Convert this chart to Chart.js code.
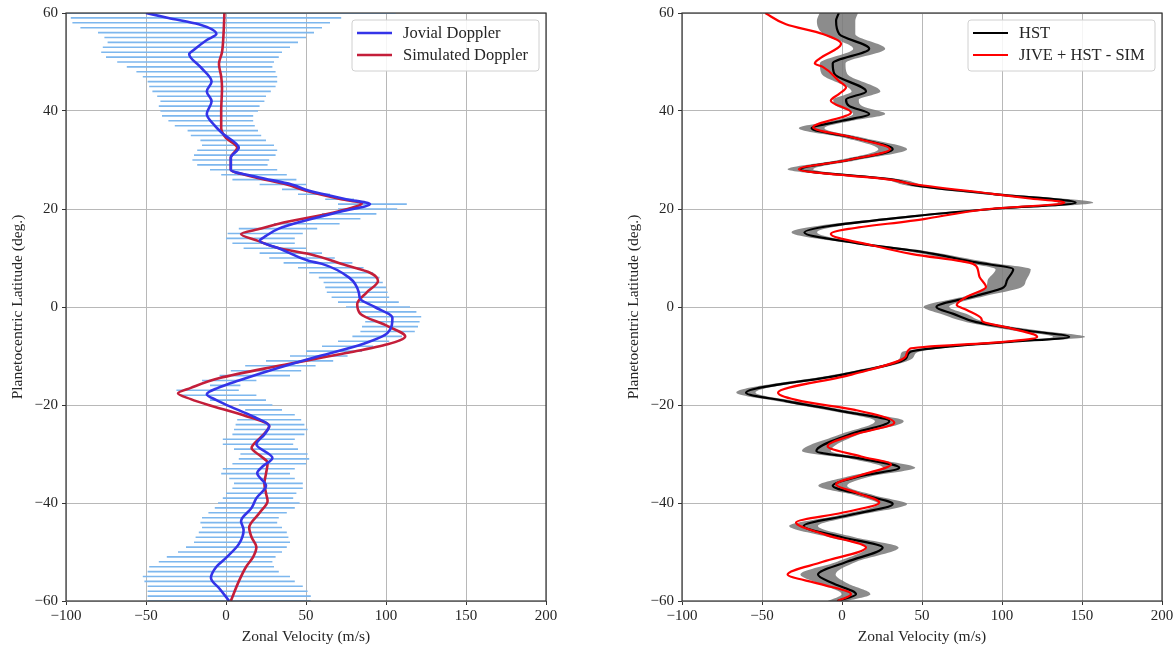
<!DOCTYPE html>
<html>
<head>
<meta charset="utf-8">
<script src="https://cdn.jsdelivr.net/npm/chart.js@4/dist/chart.umd.min.js"></script>
<style>
  body { margin: 0; background: #fff; }
  canvas { position: absolute; top: 0; }
  #leftChart { left: 0; }
  #rightChart { left: 616px; }
</style>
</head>
<body>
<canvas id="leftChart" width="560" height="652"></canvas>
<canvas id="rightChart" width="560" height="652"></canvas>
<script>
// Left panel: Jovial Doppler (blue) vs simulated Doppler (crimson)
const jovialLat = [60,59,57.7,55.7,54.5,52.5,51.6,49,46,44,42,39.4,37,35.5,32.5,30.5,28,26.5,25,23.7,
  22,21,19.5,17.5,16,14.5,13.5,12,9.4,8.8,6,3,1.6,0,-2.2,-5.3,-7.5,-10.4,-12.4,-15,
  -16.5,-17.8,-19,-20.8,-22.5,-24.3,-26,-28,-30.8,-32.5,-33.9,-36.5,-39,-41,-43.7,-45.5,-48.4,-51.2,-53,-55.3,-57.5,-60];
const jovialVel = [-50,-36,-17,-6,-12,-20,-23,-16,-9,-12,-9,-12,-7,-2.5,8,3,3,20,41,52,
  75,90,72,48,33,25,21,33,52,60,77,83,84,93,104,101,86,54,33,8,
  -5,-12,-6,6,18,27,24,19,29,23,19.5,25,19,16,9.4,11,8,0,-6,-9.4,-4,2];

const simLat = [60,56,52,49.6,47,44.7,40,36.5,34.5,32.5,30.5,28,26.5,25,23.7,22,21.2,19.5,17,16,
  14.9,13.5,12,10.8,8.5,7,5.3,3,0.6,-1.4,-3.9,-6,-7.6,-9.4,-12,-14.5,-16.5,-17.6,-18.8,-20,
  -22,-24.3,-26.5,-28.8,-30.5,-31.8,-34,-36,-38,-39.6,-42,-45,-47,-49,-51,-53,-56,-60];
const simVel = [-1,-1.5,-2.5,-4.4,-3,-2.5,-3,-3,0,7,3,3,18,38,50,72,85,70,33,22,
  9.4,20,33,52,75,90,95,88,82,84,101,112,101,75,33,-4,-22,-30,-22,-11,
  10,27,22,16,22,26,25,24,25,26,21,14.5,16,19,17,12.6,8,3];

// Jovial Doppler uncertainty bars, one per degree of latitude
const errLat = [60,59,58,57,56,55,54,53,52,51,50,49,48,47,46,45,44,43,42,41,
  40,39,38,37,36,35,34,33,32,31,30,29,28,27,26,25,24,23,22,21,
  20,19,18,17,16,15,14,13,12,11,10,9,8,7,6,5,4,3,2,1,
  0,-1,-2,-3,-4,-5,-6,-7,-8,-9,-10,-11,-12,-13,-14,-15,-16,-17,-18,-19,
  -20,-21,-22,-23,-24,-25,-26,-27,-28,-29,-30,-31,-32,-33,-34,-35,-36,-37,-38,-39,
  -40,-41,-42,-43,-44,-45,-46,-47,-48,-49,-50,-51,-52,-53,-54,-55,-56,-57,-58,-59,-60];
const errLo = [-99,-97,-96,-91,-80,-76,-74,-77,-78,-75,-68,-62,-56,-52,-49,-48,-46,-43,-41,-42,
  -41,-40,-36,-32,-24,-22,-16,-15,-18,-20,-21,-18,-10,-3,4,21,35,45,62,70,
  70,60,50,30,8,1,0,4,11,21,27,36,45,52,58,61,62,63,66,70,
  75,84,88,87,85,84,79,70,60,50,40,25,12,3,-4,-15,-10,-31,-28,-10,
  8,12,11,7,6,5,4,-2,-2,5,9,8,4,-2,-3,2,5,4,0,-2,
  -5,-7,-11,-15,-16,-15,-17,-19,-20,-25,-30,-37,-42,-48,-49,-52,-51,-49,-49,-49,-49];
const errHi = [106,72,65,60,55,50,45,40,35,33,30,29,31,32,32,31,28,25,24,21,
  20,17,17,18,20,22,25,30,32,31,27,26,32,38,44,50,46,65,80,113,
  107,94,84,71,57,48,43,43,50,60,68,79,86,92,96,98,100,101,102,108,
  115,119,122,121,120,118,110,102,92,85,76,67,56,47,40,19,9,8,19,25,
  29,35,43,47,49,51,49,43,42,45,51,52,50,43,40,43,48,48,44,42,
  46,43,38,33,32,35,38,39,40,38,35,31,29,30,33,40,43,48,51,53,53];

// Right panel: HST profile with uncertainty band, and JIVE + HST - SIM
const hstLat = [60,58.4,55.7,52.7,49.7,47.6,44,42.3,41,39.4,38,36.5,34.5,32.2,30,28.1,26,24.7,23,21.3,
  20,18.6,15.2,13,11.4,9.1,7.7,5.4,4,2.3,0,-1.4,-3.1,-4.8,-6.1,-7.1,-8.2,-9.2,-10.5,-13.8,
  -17.5,-19.2,-21.3,-23.3,-26,-29.4,-31,-32.8,-34.5,-36.5,-38.5,-40.2,-42.5,-44.7,-47,-49.1,-52,-54.6,-56.5,-58.6,-60];
const hstVel = [-2,-3.7,-1.7,17,-5.8,-4.8,15,2.5,4.6,17,0,-19,8,31.7,4,-26,31.7,48,96,146,
  94,47,-23.5,10,47,84,107,103,101,84,59,69.6,84,115,142,105,63,42.5,40,0.4,
  -60,-35,0.4,29.6,4.6,-16,12.9,35.8,12,-5.8,15,31.7,4,-24,0,25.4,3,-15,-5,8.75,-3];
const hstErr = [12,12,10,10,8,8,9,8,8,10,6,8,6,9,6,8,6,6,8,11,
  8,6,8,5,6,8,11,12,11,6,8,8,6,8,10,7,6,5,4,5,
  6,6,6,9,6,9,7,10,7,9,6,9,6,9,8,10,6,11,9,9,6];

const jiveLat = [60,57.7,55.7,53.7,50.7,49.7,49,46.1,44.8,43.5,42.1,39.7,36.7,34.5,32.2,30,28.1,26,25.2,23.1,
  22.2,21.3,20,18,14.9,12.5,10.8,8.8,7.5,6.1,4.1,2.1,0.4,-0.6,-2.3,-3,-4.3,-6.1,-7.1,-8.5,
  -10,-13.8,-17.5,-19.2,-21,-23.6,-26,-28.4,-30.5,-32.1,-34.3,-36.2,-38,-39.9,-42,-44,-46.5,-49.1,-52,-54.6,-56.5,-58.6,-60];
const jiveVel = [-48,-35,-12,-0.6,-14,-17,-12,-1.8,2.5,-1.8,-7,5.6,-18,8,30,4,-27,30,42,94,
  116,139,92,52,-7,20,44,82,85,86,90,78,71.7,78,87,88,105,122,101,42.5,
  40,6,-40,-25.4,8,32.7,8,-9,12,30.6,12,-3.7,10,23.3,0,-28.75,-10,15,-12,-34,-14,5.6,-2.7];

const velTicks = [-100, -50, 0, 50, 100, 150, 200];
const latTicks = [-60, -40, -20, 0, 20, 40, 60];

const FONT = '"Liberation Serif", "DejaVu Serif", serif';
const TEXT = '#262626';

function toPoints(lats, vels) {
  return lats.map((lat, i) => ({ x: vels[i], y: lat }));
}

function fmt(v) {
  return v < 0 ? '\u2212' + Math.abs(v) : String(v);
}

// frame round the plot area, like matplotlib spines
const framePlugin = {
  id: 'frame',
  afterDraw(chart) {
    const { ctx, chartArea: a } = chart;
    ctx.save();
    ctx.strokeStyle = '#333';
    ctx.lineWidth = 1.2;
    ctx.strokeRect(a.left, a.top, a.right - a.left, a.bottom - a.top);
    ctx.restore();
  }
};

// legend box in the upper right corner of the plot area
const legendPlugin = {
  id: 'boxLegend',
  afterDraw(chart, args, opts) {
    const { ctx, chartArea: a } = chart;
    const items = opts.items || [];
    const w = 187, h = 51;
    const x = a.right - w - 7, y = a.top + 7;
    ctx.save();
    ctx.beginPath();
    ctx.roundRect(x, y, w, h, 3);
    ctx.fillStyle = 'rgba(255,255,255,0.85)';
    ctx.fill();
    ctx.strokeStyle = '#d0d0d0';
    ctx.lineWidth = 1;
    ctx.stroke();
    ctx.font = '16.5px ' + FONT;
    ctx.textBaseline = 'middle';
    items.forEach((it, i) => {
      const ly = y + 13 + i * 22;
      ctx.strokeStyle = it.color;
      ctx.lineWidth = it.width;
      ctx.beginPath();
      ctx.moveTo(x + 5, ly);
      ctx.lineTo(x + 40, ly);
      ctx.stroke();
      ctx.fillStyle = TEXT;
      ctx.fillText(it.label, x + 51, ly + 1);
    });
    ctx.restore();
  }
};

function scales() {
  return {
    x: {
      type: 'linear', min: -100, max: 200,
      afterBuildTicks: s => { s.ticks = velTicks.map(v => ({ value: v })); },
      afterFit: s => { s.height = 51; },
      ticks: { callback: fmt, color: TEXT, padding: 2, maxRotation: 0, font: { family: FONT, size: 15 } },
      grid: { color: '#b8b8b8', lineWidth: 1, tickLength: 4, tickColor: '#333' },
      border: { display: false },
      title: { display: true, text: 'Zonal Velocity (m/s)', color: TEXT,
        padding: { top: 0, bottom: 6 }, font: { family: FONT, size: 15.5 } }
    },
    y: {
      type: 'linear', min: -60, max: 60,
      afterBuildTicks: s => { s.ticks = latTicks.map(v => ({ value: v })); },
      afterFit: s => { s.width = 66; },
      ticks: { callback: fmt, color: TEXT, padding: 4, font: { family: FONT, size: 15 } },
      grid: { color: '#b8b8b8', lineWidth: 1, tickLength: 4, tickColor: '#333' },
      border: { display: false },
      title: { display: true, text: 'Planetocentric Latitude (deg.)', color: TEXT,
        padding: { top: 9, bottom: 0 }, font: { family: FONT, size: 15.5 } }
    }
  };
}

function baseOptions(legendItems) {
  return {
    responsive: false,
    animation: false,
    indexAxis: 'y',
    layout: { padding: { top: 12, right: 14, left: 0, bottom: 0 } },
    elements: { point: { radius: 0 } },
    plugins: {
      legend: { display: false },
      tooltip: { enabled: false },
      boxLegend: { items: legendItems }
    },
    scales: scales()
  };
}

// error bars: pairs of points split by null gaps
const errPoints = [];
errLat.forEach((lat, i) => {
  errPoints.push({ x: errLo[i], y: lat }, { x: errHi[i], y: lat }, { x: null, y: null });
});

new Chart(document.getElementById('leftChart'), {
  type: 'line',
  data: {
    datasets: [
      { label: 'Jovial Doppler', data: toPoints(jovialLat, jovialVel),
        borderColor: '#3434e8', borderWidth: 2.6, cubicInterpolationMode: 'monotone', order: 0 },
      { label: 'Simulated Doppler', data: toPoints(simLat, simVel),
        borderColor: '#c41e3a', borderWidth: 2.6, cubicInterpolationMode: 'monotone', order: 1 },
      { label: 'errors', data: errPoints, borderColor: '#7db7ee', borderWidth: 1.6,
        tension: 0, spanGaps: false, order: 5 }
    ]
  },
  options: baseOptions([
    { label: 'Jovial Doppler', color: '#3434e8', width: 2.6 },
    { label: 'Simulated Doppler', color: '#c41e3a', width: 2.6 }
  ]),
  plugins: [framePlugin, legendPlugin]
});

new Chart(document.getElementById('rightChart'), {
  type: 'line',
  data: {
    datasets: [
      { label: 'HST low', data: hstLat.map((lat, i) => ({ x: hstVel[i] - hstErr[i], y: lat })),
        borderWidth: 0, borderColor: 'rgba(0,0,0,0)', cubicInterpolationMode: 'monotone', fill: false, order: 4 },
      { label: 'HST high', data: hstLat.map((lat, i) => ({ x: hstVel[i] + hstErr[i], y: lat })),
        borderWidth: 0, borderColor: 'rgba(0,0,0,0)', backgroundColor: 'rgba(120,120,120,0.85)',
        cubicInterpolationMode: 'monotone', fill: '-1', order: 3 },
      { label: 'HST', data: toPoints(hstLat, hstVel),
        borderColor: '#000', borderWidth: 2.2, cubicInterpolationMode: 'monotone', order: 1 },
      { label: 'JIVE + HST - SIM', data: toPoints(jiveLat, jiveVel),
        borderColor: '#ff0000', borderWidth: 2.2, cubicInterpolationMode: 'monotone', order: 0 }
    ]
  },
  options: baseOptions([
    { label: 'HST', color: '#000', width: 2.2 },
    { label: 'JIVE + HST - SIM', color: '#ff0000', width: 2.2 }
  ]),
  plugins: [framePlugin, legendPlugin]
});
</script>
</body>
</html>
